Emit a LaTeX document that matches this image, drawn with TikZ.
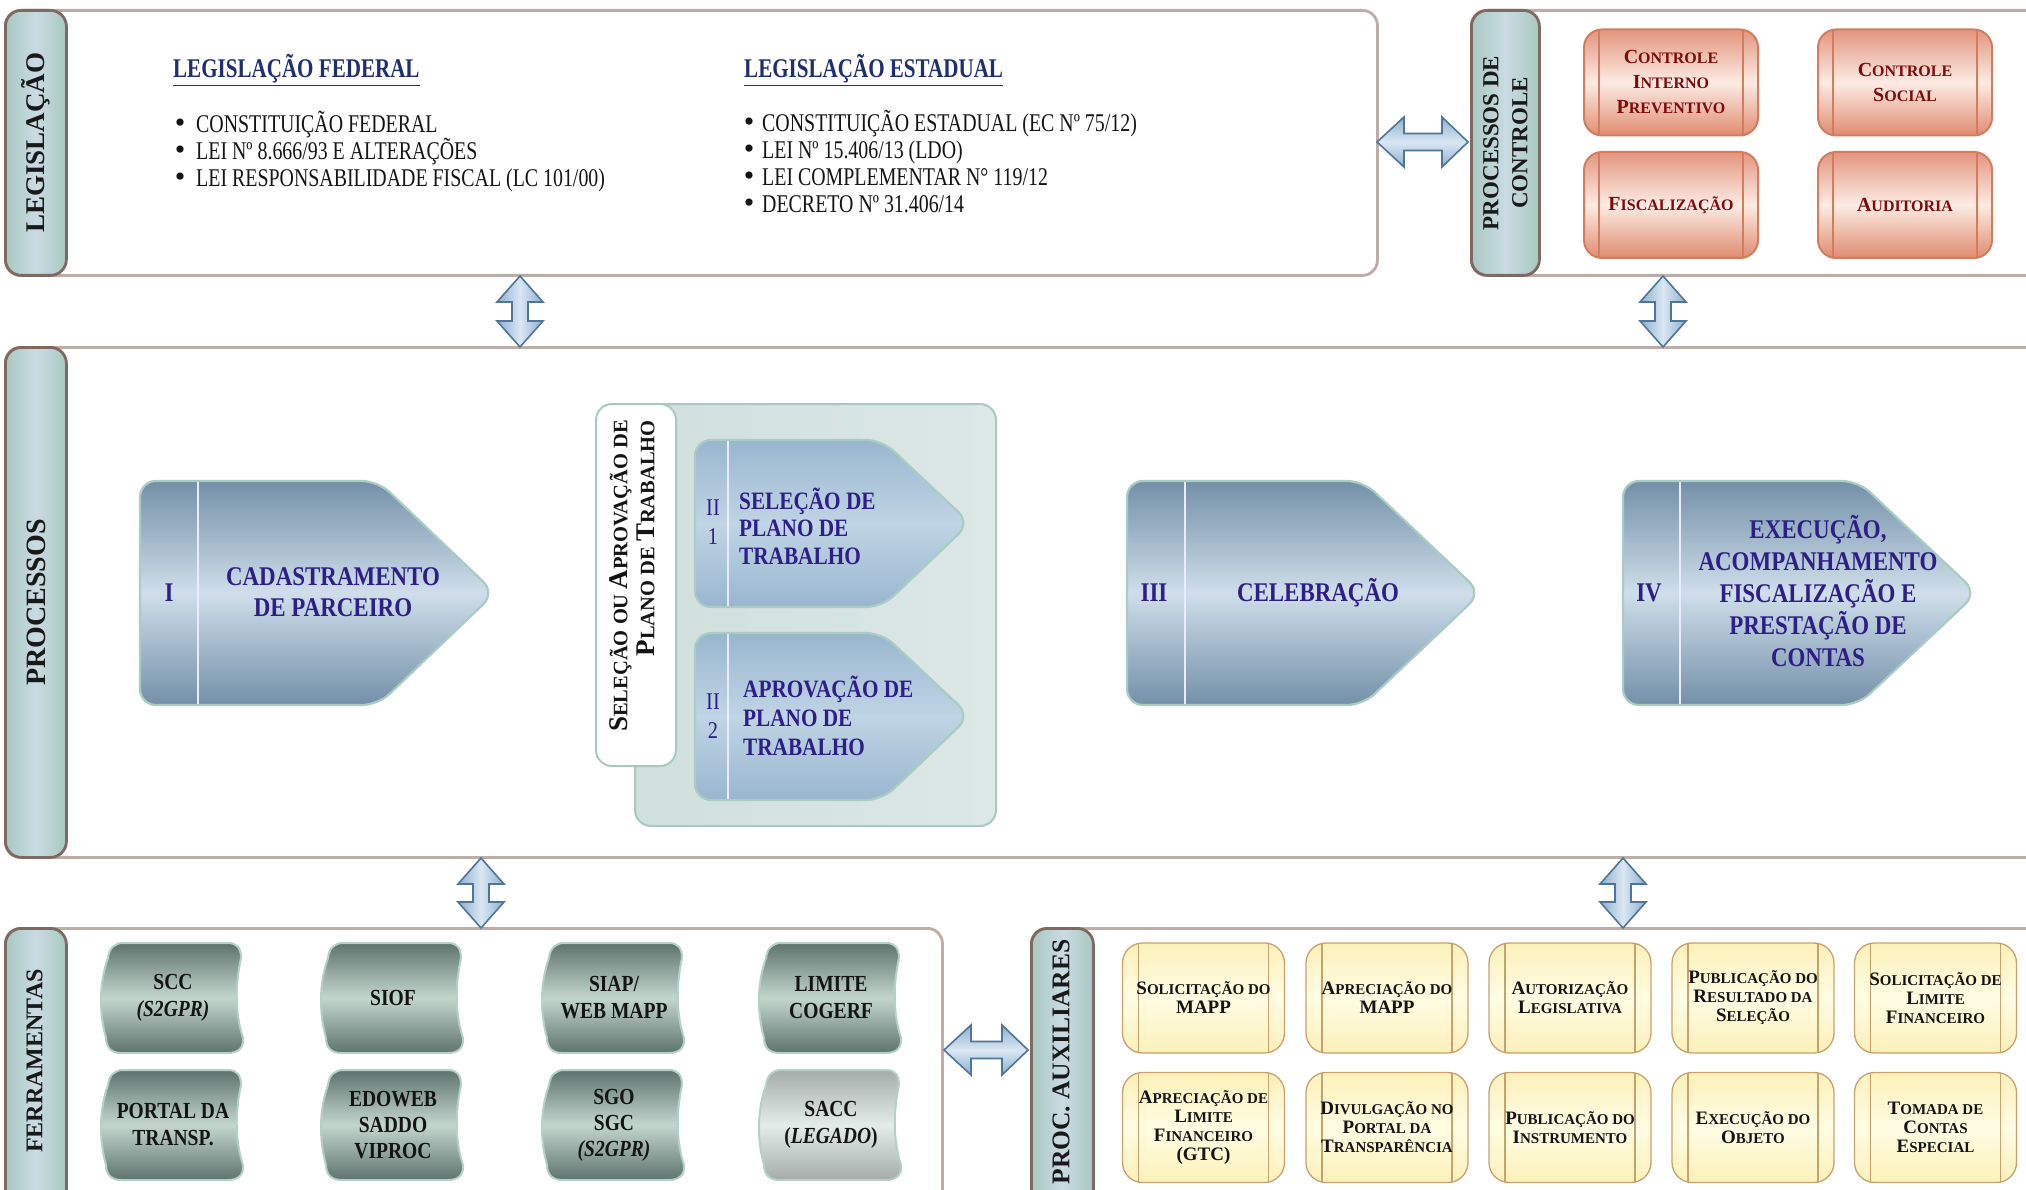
\documentclass[tikz,border=0pt]{standalone}
\usepackage{fontspec}
\setmainfont{Liberation Serif}
\newfontfamily\cf{Liberation Serif}[FakeStretch=0.85]
\newfontfamily\cff{Liberation Serif}[FakeStretch=0.78]
\usetikzlibrary{calc}
\definecolor{contb}{HTML}{BCAEA6}
\definecolor{barb}{HTML}{7E6A62}
\definecolor{barside}{HTML}{A9C8C1}
\definecolor{barmid}{HTML}{CADBE3}
\definecolor{procside}{HTML}{7390A8}
\definecolor{procmid}{HTML}{CFDEEA}
\definecolor{procborder}{HTML}{A9CCC4}
\definecolor{ptwoside}{HTML}{99B6CF}
\definecolor{ptwomid}{HTML}{C0D5E5}
\definecolor{grpb}{HTML}{A8C9BF}
\definecolor{grpl}{HTML}{D0E0DC}
\definecolor{grpr}{HTML}{DCE8E6}
\definecolor{procblue}{HTML}{2E1E88}
\definecolor{hdrblue}{HTML}{1F2F6F}
\definecolor{ctrlb}{HTML}{D47D5E}
\definecolor{ctrltop}{HTML}{E3957E}
\definecolor{ctrlmid}{HTML}{FCEBE3}
\definecolor{ctrlbot}{HTML}{E08C70}
\definecolor{ctrlred}{HTML}{7D0B0B}
\definecolor{tapeside}{HTML}{5E736D}
\definecolor{tapemid}{HTML}{C3D6CE}
\definecolor{tapeb}{HTML}{B5D1C7}
\definecolor{tapeLside}{HTML}{A4ADAA}
\definecolor{tapeLmid}{HTML}{E4ECE9}
\definecolor{auxb}{HTML}{C8A16F}
\definecolor{auxside}{HTML}{FBF1B9}
\definecolor{auxmid}{HTML}{FFFCE3}
\definecolor{arrb}{HTML}{4F7599}
\definecolor{arrside}{HTML}{8DAFD0}
\definecolor{arrmid}{HTML}{DAE7F3}
\newcommand\Bc[1]{{\fontsize{20}{25}\selectfont #1}}
\newcommand\Ba[1]{{\fontsize{19}{19}\selectfont #1}}
\newcommand\Bg[1]{{\fontsize{27}{27}\selectfont #1}}
\newcommand\vbi[2]{\path[bigarrow, left color=arrside, right color=arrside, middle color=arrmid] (#1) -- ++(23,26) -- ++(-15,0) -- ($(#2)+(8,-26)$) -- ++(15,0) -- (#2) -- ++(-23,-26) -- ++(15,0) -- ($(#1)+(-8,26)$) -- ++(-15,0) -- cycle;}
\newcommand\hbi[2]{\path[bigarrow, top color=arrside, bottom color=arrside, middle color=arrmid] (#1) -- ++(27,-25) -- ++(0,16.5) -- ($(#2)+(-26,-8.5)$) -- ++(0,-16.5) -- (#2) -- ++(-26,25) -- ++(0,-16.5) -- ($(#1)+(27,8.5)$) -- ++(0,16.5) -- cycle;}
\newcommand\tape[2]{\path[#2, shift={#1}] (-50,-55) -- (55,-55) .. controls (64,-55) and (68,-50) .. (68,-40) .. controls (62,-12) and (62,15) .. (70,40) .. controls (71,50) and (65,55) .. (55,55) -- (-52,55) .. controls (-61,55) and (-67,50) .. (-67,40) .. controls (-74,15) and (-74,-15) .. (-65,-40) .. controls (-64,-50) and (-58,-55) .. (-50,-55) -- cycle;}
\newcommand\ul[1]{\underline{#1}}
\begin{document}
\begin{tikzpicture}[x=1pt,y=-1pt,
 container/.style={draw=contb, line width=2.8, fill=white, rounded corners=15, inner sep=0, anchor=north west},
 lbar/.style={draw=barb, line width=2.8, rounded corners=16, left color=barside, right color=barside, middle color=barmid, inner sep=0, anchor=north west},
 lbtext/.style={rotate=90, font=\bfseries, text=black!90, align=center, inner sep=0},
 hdr/.style={font=\cff\bfseries\fontsize{27}{30}\selectfont, text=hdrblue, inner sep=0, anchor=base west},
 lt/.style={font=\cff\fontsize{25.5}{27}\selectfont, text=black!92, inner sep=0, anchor=base west},
 bul/.style={font=\fontsize{30}{27}\selectfont, text=black!92, inner sep=0, anchor=base},
 procA/.style={draw=procborder, line width=2.2, rounded corners=16, top color=procside, bottom color=procside, middle color=procmid},
 procB/.style={draw=procborder, line width=2.2, rounded corners=16, top color=ptwoside, bottom color=ptwoside, middle color=ptwomid},
 divider/.style={draw=white!92!blue, line width=2},
 ptext/.style={font=\cf\bfseries\fontsize{27}{31}\selectfont, text=procblue, align=center, inner sep=0},
 ptwotext/.style={font=\cf\bfseries\fontsize{25}{27.5}\selectfont, text=procblue, align=left, inner sep=0, anchor=west},
 ptwonum/.style={font=\cf\fontsize{24}{29}\selectfont, text=procblue, align=center, inner sep=0},
 grpbox/.style={draw=grpb, line width=2, rounded corners=16, left color=grpl, right color=grpr, inner sep=0, anchor=north west},
 grplab/.style={draw=grpb, line width=2, rounded corners=16, fill=white, inner sep=0, anchor=north west},
 ctrlbox/.style={draw=ctrlb, line width=2, rounded corners=18, top color=ctrltop, bottom color=ctrlbot, middle color=ctrlmid, minimum width=174, minimum height=106, inner sep=0, align=center, text=ctrlred, font=\bfseries\fontsize{16}{25}\selectfont,
   path picture={\draw[ctrlb, line width=2] ([xshift=15pt]path picture bounding box.north west) -- ([xshift=15pt]path picture bounding box.south west); \draw[ctrlb, line width=2] ([xshift=-15pt]path picture bounding box.north east) -- ([xshift=-15pt]path picture bounding box.south east);}},
 auxbox/.style={draw=auxb, line width=1.3, rounded corners=20, top color=auxside, bottom color=auxside, middle color=auxmid, minimum width=162, minimum height=110, inner sep=0, align=center, text=black!92, font=\bfseries\fontsize{15}{19}\selectfont,
   path picture={\draw[auxb, line width=1.2] ([xshift=16pt]path picture bounding box.north west) -- ([xshift=16pt]path picture bounding box.south west); \draw[auxb, line width=1.2] ([xshift=-16pt]path picture bounding box.north east) -- ([xshift=-16pt]path picture bounding box.south east);}},
 tapeD/.style={draw=tapeb, line width=2, top color=tapeside, bottom color=tapeside, middle color=tapemid},
 tapeL/.style={draw=tapeb, line width=2, top color=tapeLside, bottom color=tapeLside, middle color=tapeLmid},
 ftext/.style={font=\cf\bfseries\fontsize{23}{27}\selectfont, text=black!92, align=center, inner sep=0},
 bigarrow/.style={draw=arrb, line width=1.6, line join=miter}
]
\useasboundingbox (0,0) rectangle (2026,1190);
\clip (0,0) rectangle (2026,1190);
\fill[white] (0,0) rectangle (2026,1190);

% ---------- containers ----------
\node[container, minimum width=1372, minimum height=265] (leg) at (4,9) {};
\node[container, minimum width=620, minimum height=265] (ctrl) at (1470,9) {};
\node[container, minimum width=2080, minimum height=510] (proc) at (4,346) {};
\node[container, minimum width=937, minimum height=320] (ferr) at (4,927) {};
\node[container, minimum width=1060, minimum height=320] (aux) at (1030,927) {};

% ---------- label bars ----------
\node[lbar, minimum width=61, minimum height=265] (legl) at (4,9) {};
\node[lbtext, font=\bfseries\fontsize{27}{27}\selectfont] (legt) at (legl.center) {LEGISLAÇÃO};
\node[lbar, minimum width=68, minimum height=265] (ctrll) at (1470,9) {};
\node[lbtext, font=\bfseries\fontsize{23}{29}\selectfont] (ctrlt) at (ctrll.center) {PROCESSOS DE\\CONTROLE};
\node[lbar, minimum width=61, minimum height=510] (procl) at (4,346) {};
\node[lbtext, font=\bfseries\fontsize{28}{28}\selectfont] (proct) at (procl.center) {PROCESSOS};
\node[lbar, minimum width=61, minimum height=320] (ferrl) at (4,927) {};
\node[lbtext, font=\bfseries\fontsize{24}{24}\selectfont] (ferrt) at (34.5,1061) {FERRAMENTAS};
\node[lbar, minimum width=62, minimum height=320] (auxl) at (1030,927) {};
\node[lbtext, font=\bfseries\fontsize{25.5}{25.5}\selectfont] (auxt) at (1061,1062) {PROC. AUXILIARES};

% ---------- legislation texts ----------
\node[hdr] (fedh) at (173,78) {\ul{LEGISLAÇÃO FEDERAL}};
\node[bul] (fb1) at (180,133) {•};
\node[lt] (f1) at (196,133) {CONSTITUIÇÃO FEDERAL};
\node[bul] (fb2) at (180,160) {•};
\node[lt] (f2) at (196,160) {LEI Nº 8.666/93 E ALTERAÇÕES};
\node[bul] (fb3) at (180,187) {•};
\node[lt] (f3) at (196,187) {LEI RESPONSABILIDADE FISCAL (LC 101/00)};

\node[hdr] (esth) at (744,78) {\ul{LEGISLAÇÃO ESTADUAL}};
\node[bul] (eb1) at (749,132) {•};
\node[lt] (e1) at (762,132) {CONSTITUIÇÃO ESTADUAL (EC Nº 75/12)};
\node[bul] (eb2) at (749,159) {•};
\node[lt] (e2) at (762,159) {LEI Nº 15.406/13 (LDO)};
\node[bul] (eb3) at (749,186) {•};
\node[lt] (e3) at (762,186) {LEI COMPLEMENTAR N° 119/12};
\node[bul] (eb4) at (749,213) {•};
\node[lt] (e4) at (762,213) {DECRETO Nº 31.406/14};

% ---------- control boxes ----------
\node[ctrlbox] (cip) at (1671,82.5) {\Bc{C}ONTROLE\\\Bc{I}NTERNO\\\Bc{P}REVENTIVO};
\node[ctrlbox] (cs) at (1905,82.5) {\Bc{C}ONTROLE\\\Bc{S}OCIAL};
\node[ctrlbox] (fis) at (1671,205) {\Bc{F}ISCALIZAÇÃO};
\node[ctrlbox] (aud) at (1905,205) {\Bc{A}UDITORIA};

% ---------- processes ----------
\path[procA] (140,481) -- (378,481) -- (495,593) -- (378,705) -- (140,705) -- cycle;
\draw[divider] (198,482) -- (198,704);
\node[ptext] (p1n) at (169,593) {I};
\node[ptext] (p1) at (333,592) {CADASTRAMENTO\\DE PARCEIRO};

\node[grpbox, minimum width=361, minimum height=422] (grp) at (634,403) {};
\node[grplab, minimum width=80, minimum height=362] (grpl) at (595,403) {};
\node[rotate=90, anchor=east, align=right, inner sep=0, font=\bfseries\fontsize{20.5}{27}\selectfont, text=black!92] (grpt) at (632,420) {\Bg{S}ELEÇÃO OU \Bg{A}PROVAÇÃO DE\\\Bg{P}LANO DE \Bg{T}RABALHO};

\path[procB] (695,440) -- (882,440) -- (970,523) -- (882,607) -- (695,607) -- cycle;
\draw[divider] (728,441) -- (728,606);
\node[ptwonum] (p21n) at (713,522) {II\\1};
\node[ptwotext] (p21) at (739,526) {SELEÇÃO DE\\PLANO DE\\TRABALHO};

\path[procB] (695,633) -- (882,633) -- (970,716) -- (882,800) -- (695,800) -- cycle;
\draw[divider] (728,634) -- (728,799);
\node[ptwonum] (p22n) at (713,716) {II\\2};
\node[ptwotext, font=\cf\bfseries\fontsize{25}{29}\selectfont] (p22) at (743,716) {APROVAÇÃO DE\\PLANO DE\\TRABALHO};

\path[procA] (1127,481) -- (1363,481) -- (1481,593) -- (1363,705) -- (1127,705) -- cycle;
\draw[divider] (1185,482) -- (1185,704);
\node[ptext] (p3n) at (1154,593) {III};
\node[ptext] (p3) at (1318,593) {CELEBRAÇÃO};

\path[procA] (1623,481) -- (1858,481) -- (1977,593) -- (1858,705) -- (1623,705) -- cycle;
\draw[divider] (1680,482) -- (1680,704);
\node[ptext] (p4n) at (1649,593) {IV};
\node[ptext, font=\cf\bfseries\fontsize{27}{32}\selectfont] (p4) at (1818,591) {EXECUÇÃO,\\ACOMPANHAMENTO\\FISCALIZAÇÃO E\\PRESTAÇÃO DE\\CONTAS};

% ---------- tools ----------
\tape{(173,998)}{tapeD}
\node[ftext] (t1) at (173,998) {SCC\\\textit{(S2GPR)}};
\tape{(393,998)}{tapeD}
\node[ftext] (t2) at (393,998) {SIOF};
\tape{(614,998)}{tapeD}
\node[ftext] (t3) at (614,998) {SIAP/\\WEB MAPP};
\tape{(831,998)}{tapeD}
\node[ftext] (t4) at (831,998) {LIMITE\\COGERF};
\tape{(173,1125)}{tapeD}
\node[ftext] (t5) at (173,1125) {PORTAL DA\\TRANSP.};
\tape{(393,1125)}{tapeD}
\node[ftext, font=\cf\bfseries\fontsize{23}{26}\selectfont] (t6) at (393,1125) {EDOWEB\\SADDO\\VIPROC};
\tape{(614,1125)}{tapeD}
\node[ftext, font=\cf\bfseries\fontsize{23}{26}\selectfont] (t7) at (614,1125) {SGO\\SGC\\\textit{(S2GPR)}};
\tape{(831,1125)}{tapeL}
\node[ftext] (t8) at (831,1125) {SACC\\(\textit{LEGADO})};

% ---------- auxiliary processes ----------
\node[auxbox] (x1) at (1203.5,998) {\Ba{S}OLICITAÇÃO DO\\\Ba{MAPP}};
\node[auxbox] (x2) at (1387,998) {\Ba{A}PRECIAÇÃO DO\\\Ba{MAPP}};
\node[auxbox] (x3) at (1570,998) {\Ba{A}UTORIZAÇÃO\\\Ba{L}EGISLATIVA};
\node[auxbox] (x4) at (1753,998) {\Ba{P}UBLICAÇÃO DO\\\Ba{R}ESULTADO DA\\\Ba{S}ELEÇÃO};
\node[auxbox] (x5) at (1935.5,998) {\Ba{S}OLICITAÇÃO DE\\\Ba{L}IMITE\\\Ba{F}INANCEIRO};
\node[auxbox] (x6) at (1203.5,1127.5) {\Ba{A}PRECIAÇÃO DE\\\Ba{L}IMITE\\\Ba{F}INANCEIRO\\\Ba{(GTC)}};
\node[auxbox] (x7) at (1387,1127.5) {\Ba{D}IVULGAÇÃO NO\\\Ba{P}ORTAL DA\\\Ba{T}RANSPARÊNCIA};
\node[auxbox] (x8) at (1570,1127.5) {\Ba{P}UBLICAÇÃO DO\\\Ba{I}NSTRUMENTO};
\node[auxbox] (x9) at (1753,1127.5) {\Ba{E}XECUÇÃO DO\\\Ba{O}BJETO};
\node[auxbox] (x10) at (1935.5,1127.5) {\Ba{T}OMADA DE\\\Ba{C}ONTAS\\\Ba{E}SPECIAL};

% ---------- block arrows ----------
\coordinate (a1t) at (520,276); \coordinate (a1b) at (520,347);
\coordinate (a2t) at (1663,276); \coordinate (a2b) at (1663,347);
\coordinate (a3t) at (481,858); \coordinate (a3b) at (481,928);
\coordinate (a4t) at (1623,858); \coordinate (a4b) at (1623,928);
\coordinate (h1l) at (1377,142); \coordinate (h1r) at (1468,142);
\coordinate (h2l) at (944,1050); \coordinate (h2r) at (1028,1050);
\vbi{a1t}{a1b}
\vbi{a2t}{a2b}
\vbi{a3t}{a3b}
\vbi{a4t}{a4b}
\hbi{h1l}{h1r}
\hbi{h2l}{h2r}
\end{tikzpicture}
\end{document}
